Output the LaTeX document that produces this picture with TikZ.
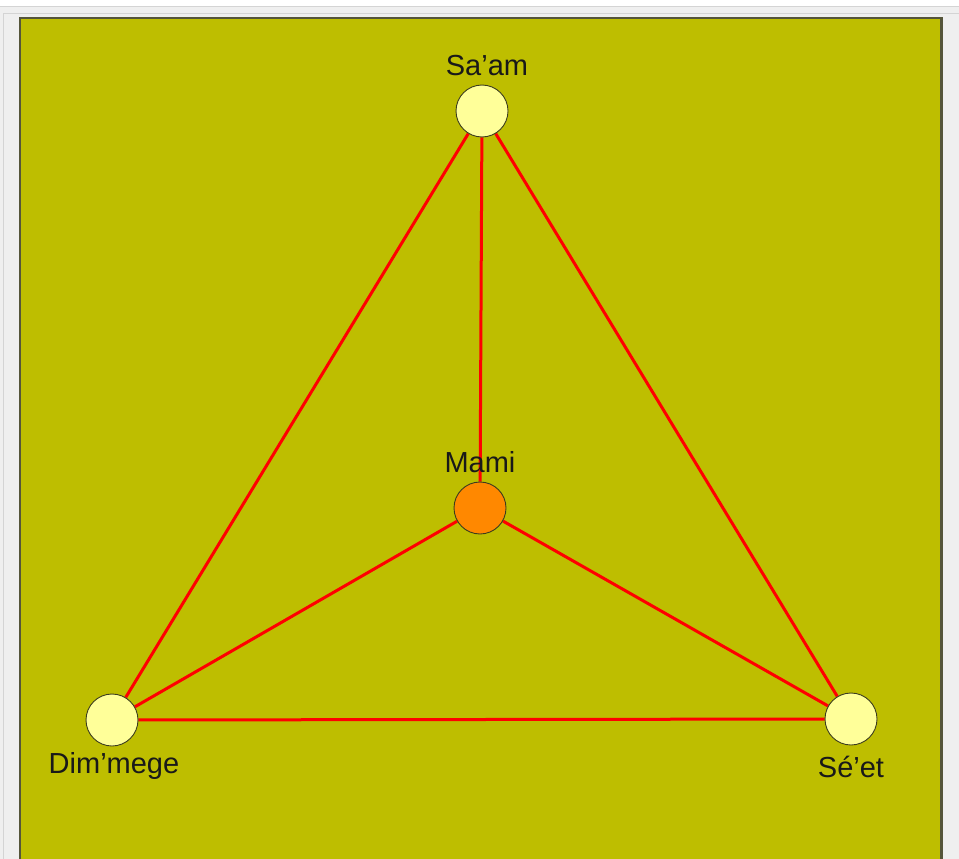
\documentclass[tikz,border=0pt]{standalone}
\usepackage{fontspec}
\setmainfont{Liberation Sans}
\usepackage{xcolor}
\usepackage{tikz}
\usetikzlibrary{positioning,backgrounds}
\definecolor{FrameGray}{HTML}{EFEFEF}
\definecolor{FrameLine}{HTML}{D4D4D4}
\definecolor{PanelOlive}{HTML}{BEBE00}
\definecolor{PanelEdge}{HTML}{55553A}
\definecolor{StarPale}{HTML}{FFFF99}
\definecolor{StarOrange}{HTML}{FF8800}
\definecolor{StarRim}{HTML}{3C3C1E}
\definecolor{LinkRed}{HTML}{FF0000}

\begin{document}
\begin{tikzpicture}[x=1pt,y=-1pt,
  starnode/.style={circle,draw=StarRim,line width=0.9pt,fill=StarPale,minimum size=52pt,inner sep=0pt},
  centrenode/.style={starnode,fill=StarOrange},
  starlabel/.style={inner sep=0pt,font=\fontsize{29}{32}\selectfont,text=black!90},
  link/.style={draw=LinkRed,line width=3pt}
]
\useasboundingbox (0,0) rectangle (959,859);
\node[starnode] (saam) at (482,111) {};
\node[centrenode] (mami) at (480,508) {};
\node[starnode] (dimmege) at (112,720) {};
\node[starnode] (seet) at (851,719) {};
\node[starlabel,above=9pt of saam,xshift=5pt] (saamname) {Sa’am};
\node[starlabel,above=9pt of mami] (maminame) {Mami};
\node[starlabel,below=6pt of dimmege,xshift=2pt] (dimmegename) {Dim’mege};
\node[starlabel,below=10pt of seet] (seetname) {Sé’et};
\begin{scope}[on background layer]
  \fill[white] (0,0) rectangle (959,859);
  \fill[FrameGray] (0,6) rectangle (959,859);
  \draw[FrameLine] (0,6.5) -- (959,6.5);
  \draw[FrameLine] (3.5,859) |- (959,13.5);
  \fill[PanelEdge] (19,17) rectangle (943,862);
  \fill[PanelOlive] (21,19) rectangle (940,862);
  \draw[link] (saam) -- (dimmege);
  \draw[link] (saam) -- (seet);
  \draw[link] (saam) -- (mami);
  \draw[link] (mami) -- (dimmege);
  \draw[link] (mami) -- (seet);
  \draw[link] (dimmege) -- (seet);
\end{scope}
\end{tikzpicture}
\end{document}
